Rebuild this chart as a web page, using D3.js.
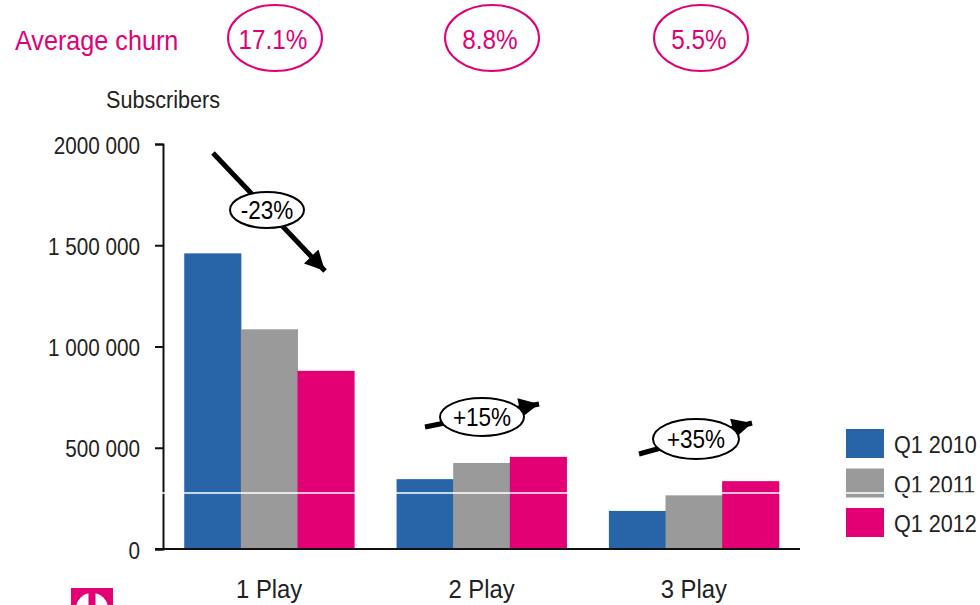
<!DOCTYPE html>
<html>
<head>
<meta charset="utf-8">
<script src="https://cdn.jsdelivr.net/npm/d3@7"></script>
<style>
  html, body { margin: 0; padding: 0; background: #fff; }
  svg { display: block; }
  text { font-family: "Liberation Sans", Arial, sans-serif; }
</style>
</head>
<body>
<svg id="chart"></svg>
<script>
// chart values
const categories = ['1 Play', '2 Play', '3 Play']
const seriesNames = ['Q1 2010', 'Q1 2011', 'Q1 2012']
const q1_2010 = [1460000, 345000, 188000]
const q1_2011 = [1085000, 425000, 265000]
const q1_2012 = [880000, 455000, 335000]
const churn = ['17.1%', '8.8%', '5.5%']
const changes = ['-23%', '+15%', '+35%']
const yTicks = [0, 500000, 1000000, 1500000, 2000000]
const yTickLabels = ['0', '500 000', '1 000 000', '1 500 000', '2000 000']

const colors = ['#2864a8', '#9a9a9a', '#e20074']
const magenta = '#e20074'
const squeeze = 0.9 // the original font is a narrow grotesk

const width = 980
const height = 605
const margin = { top: 144, right: 180, bottom: 56, left: 163 }

const svg = d3.select('#chart').attr('width', width).attr('height', height)

// text placed with a horizontal squeeze
const place = (x, y) => `translate(${x},${y}) scale(${squeeze},1)`

const x = d3.scaleBand()
  .domain(categories)
  .range([margin.left, width - margin.right])
  .paddingInner(0.2)
  .paddingOuter(0.1)

const xSub = d3.scaleBand()
  .domain(seriesNames)
  .range([0, x.bandwidth()])

const y = d3.scaleLinear()
  .domain([0, 2000000])
  .range([height - margin.bottom, margin.top])

const series = [q1_2010, q1_2011, q1_2012]
const rows = categories.map((c, i) => ({
  cat: c,
  values: seriesNames.map((s, j) => ({ s, v: series[j][i], color: colors[j] }))
}))

// bars
const group = svg.selectAll('.group')
  .data(rows)
  .enter()
  .append('g')
  .attr('class', 'group')
  .attr('transform', (d) => `translate(${x(d.cat)},0)`)

group.selectAll('rect')
  .data((d) => d.values)
  .enter()
  .append('rect')
  .attr('x', (d) => xSub(d.s))
  .attr('width', xSub.bandwidth() + 0.5)
  .attr('y', (d) => y(d.v))
  .attr('height', (d) => y(0) - y(d.v))
  .attr('fill', (d) => d.color)

// y axis
const yAxis = d3.axisLeft(y)
  .tickValues(yTicks)
  .tickFormat((d, i) => yTickLabels[i])
  .tickSize(8)
  .tickPadding(15)

const yg = svg.append('g')
  .attr('transform', `translate(${margin.left},0)`)
  .call(yAxis)
yg.select('.domain').attr('stroke', '#111').attr('stroke-width', 2)
yg.selectAll('.tick line').attr('stroke', '#111').attr('stroke-width', 2)
yg.selectAll('.tick text')
  .attr('x', null)
  .attr('dy', null)
  .attr('transform', place(-23, 9))
  .attr('font-size', 23)
  .attr('fill', '#222')
  .attr('font-family', null)

// baseline
svg.append('line')
  .attr('x1', margin.left - 8)
  .attr('x2', width - margin.right)
  .attr('y1', y(0))
  .attr('y2', y(0))
  .attr('stroke', '#111')
  .attr('stroke-width', 2)

// x labels
svg.selectAll('.xlabel')
  .data(categories)
  .enter()
  .append('text')
  .attr('class', 'xlabel')
  .attr('transform', (d) => place(x(d) + x.bandwidth() / 2, 598))
  .attr('text-anchor', 'middle')
  .attr('font-size', 26.5)
  .attr('fill', '#222')
  .text((d) => d)

// axis title
svg.append('text')
  .attr('transform', place(106, 108))
  .attr('font-size', 24)
  .attr('fill', '#222')
  .text('Subscribers')

// average churn row
svg.append('text')
  .attr('transform', place(15, 50))
  .attr('font-size', 28)
  .attr('fill', magenta)
  .text('Average churn')

const churnX = [275, 492, 701]
const churnG = svg.selectAll('.churn')
  .data(churn)
  .enter()
  .append('g')
  .attr('class', 'churn')
  .attr('transform', (d, i) => `translate(${churnX[i]},38)`)
churnG.append('ellipse')
  .attr('rx', 47)
  .attr('ry', 33)
  .attr('fill', 'none')
  .attr('stroke', magenta)
  .attr('stroke-width', 2)
churnG.append('text')
  .attr('text-anchor', 'middle')
  .attr('transform', place(-2, 11))
  .attr('font-size', 27)
  .attr('fill', magenta)
  .text((d) => d)

// change arrows: start, tip, label centre
const arrows = [
  { from: [213, 153], to: [325, 271], c: [267, 210], rx: 37, ry: 18 },
  { from: [425, 427], to: [539, 404], c: [482, 417], rx: 42, ry: 19 },
  { from: [639, 454], to: [752, 423], c: [696, 439], rx: 43, ry: 20 }
]

svg.append('defs').append('marker')
  .attr('id', 'head')
  .attr('viewBox', '0 0 10 10')
  .attr('refX', 10)
  .attr('refY', 5)
  .attr('markerWidth', 4.6)
  .attr('markerHeight', 4)
  .attr('markerUnits', 'strokeWidth')
  .attr('orient', 'auto')
  .append('path')
  .attr('d', 'M0,0 L10,5 L0,10 Z')
  .attr('fill', '#000')

const arrowG = svg.selectAll('.arrow')
  .data(arrows)
  .enter()
  .append('g')
  .attr('class', 'arrow')

arrowG.append('line')
  .attr('x1', (d) => d.from[0])
  .attr('y1', (d) => d.from[1])
  .attr('x2', (d) => d.to[0])
  .attr('y2', (d) => d.to[1])
  .attr('stroke', '#000')
  .attr('stroke-width', 5)
  .attr('marker-end', 'url(#head)')

arrowG.append('ellipse')
  .attr('cx', (d) => d.c[0])
  .attr('cy', (d) => d.c[1])
  .attr('rx', (d) => d.rx)
  .attr('ry', (d) => d.ry)
  .attr('fill', '#fff')
  .attr('stroke', '#000')
  .attr('stroke-width', 2)

arrowG.append('text')
  .attr('transform', (d) => place(d.c[0], d.c[1] + 9))
  .attr('text-anchor', 'middle')
  .attr('font-size', 25)
  .attr('fill', '#000')
  .text((d, i) => changes[i])

// legend
const legend = svg.selectAll('.legend')
  .data(seriesNames)
  .enter()
  .append('g')
  .attr('class', 'legend')
  .attr('transform', (d, i) => `translate(846,${429 + i * 39.5})`)
legend.append('rect')
  .attr('width', 38)
  .attr('height', 29)
  .attr('fill', (d, i) => colors[i])
legend.append('text')
  .attr('transform', place(48, 24))
  .attr('font-size', 24)
  .attr('fill', '#222')
  .text((d) => d)

// thin white line that runs across the original picture
svg.append('line')
  .attr('x1', 0)
  .attr('x2', width)
  .attr('y1', 493)
  .attr('y2', 493)
  .attr('stroke', '#fff')
  .attr('stroke-width', 1.5)

// logo, cut off at the bottom
const logo = svg.append('g')
logo.append('rect').attr('x', 71).attr('y', 588).attr('width', 42).attr('height', 17).attr('fill', magenta)
logo.append('ellipse').attr('cx', 92).attr('cy', 608).attr('rx', 16).attr('ry', 15).attr('fill', '#fff')
logo.append('rect').attr('x', 88.5).attr('y', 588).attr('width', 7).attr('height', 17).attr('fill', magenta)
</script>
</body>
</html>
